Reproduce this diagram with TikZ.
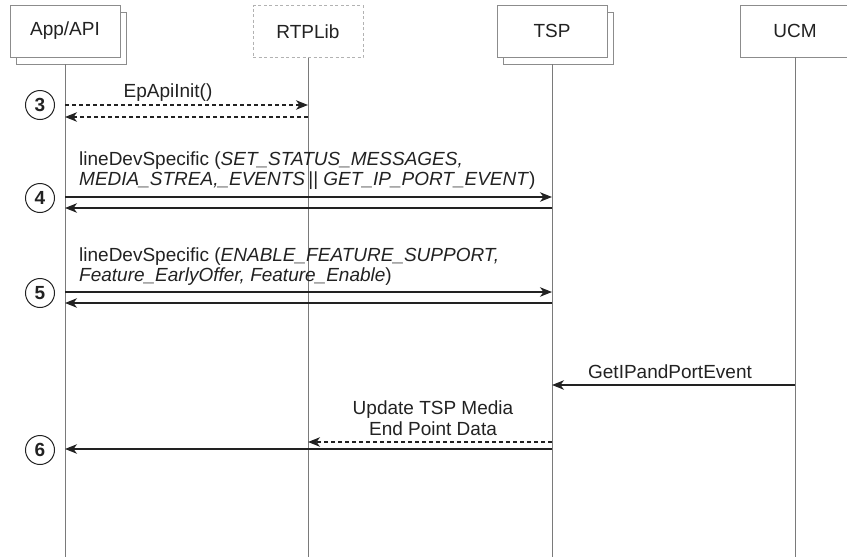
\documentclass[tikz,border=0pt]{standalone}
\usepackage{fontspec}
\setmainfont{Liberation Sans}
\usetikzlibrary{arrows.meta,shadows}

\definecolor{boxgray}{HTML}{8C8C8C}
\definecolor{linegray}{HTML}{7A7A7A}
\definecolor{inkgray}{HTML}{222222}

\tikzstyle{actor} = [draw=boxgray, line width=0.9pt, fill=white, minimum width=110pt, minimum height=52pt, inner sep=0pt, text=inkgray]
\tikzstyle{stacked} = [actor, copy shadow={shadow xshift=6pt, shadow yshift=-7pt, draw=boxgray, line width=0.9pt, fill=white}]
\tikzstyle{lib} = [actor, draw=gray!60, dash pattern=on 3pt off 2.5pt]
\tikzstyle{life} = [draw=linegray, line width=0.9pt]
\tikzstyle{msg} = [draw=inkgray, line width=1.1pt, -{Stealth[length=12pt,width=9.5pt,inset=3.5pt]}]
\tikzstyle{dmsg} = [msg, dash pattern=on 4pt off 3pt]
\tikzstyle{stepnum} = [circle, draw=inkgray, line width=1pt, minimum size=29pt, inner sep=0pt, text=inkgray, font=\fontsize{19}{20}\selectfont\bfseries]
\tikzstyle{note} = [text=inkgray, inner sep=0pt]

\begin{document}
\begin{tikzpicture}[x=1pt, y=-1pt, font=\fontsize{19}{20.5}\selectfont]
\useasboundingbox (0,0) rectangle (847,560);

\node[stacked] (app) at (65,31) {App/API};
\node[lib] (rtp) at (308,31.5) {RTPLib};
\node[stacked] (tsp) at (552,31) {TSP};
\node[actor] (ucm) at (795,31) {UCM};

\coordinate (bottom) at (0,557);
\coordinate (r3) at (0,105);
\coordinate (r3b) at (0,117);
\coordinate (r4) at (0,197);
\coordinate (r4b) at (0,208);
\coordinate (r5) at (0,292);
\coordinate (r5b) at (0,303);
\coordinate (rg) at (0,385);
\coordinate (r6a) at (0,442);
\coordinate (r6) at (0,449);

\draw[life] ([yshift=-7pt]app.south) -- (app |- bottom);
\draw[life] (rtp.south) -- (rtp |- bottom);
\draw[life] ([yshift=-7pt]tsp.south) -- (tsp |- bottom);
\draw[life] (ucm.south) -- (ucm |- bottom);

\node[stepnum] (s3) at (40,105) {3};
\node[note] (l3) at (168,93) {EpApiInit()};
\draw[dmsg] (app |- r3) -- (rtp |- r3);
\draw[dmsg] (rtp |- r3b) -- (app |- r3b);

\node[stepnum] (s4) at (40,198) {4};
\node[note, anchor=west, align=left] (l4) at (79,170.5)
    {lineDevSpecific (\textit{SET\_STATUS\_MESSAGES,}\\
     \textit{MEDIA\_STREA,\_EVENTS}\,|| \textit{GET\_IP\_PORT\_EVENT})};
\draw[msg] (app |- r4) -- (tsp |- r4);
\draw[msg] (tsp |- r4b) -- (app |- r4b);

\node[stepnum] (s5) at (40,293) {5};
\node[note, anchor=west, align=left] (l5) at (79,266.5)
    {lineDevSpecific (\textit{ENABLE\_FEATURE\_SUPPORT,}\\
     \textit{Feature\_EarlyOffer, Feature\_Enable})};
\draw[msg] (app |- r5) -- (tsp |- r5);
\draw[msg] (tsp |- r5b) -- (app |- r5b);

\node[note] (lg) at (670,372) {GetIPandPortEvent};
\draw[msg] (ucm |- rg) -- (tsp |- rg);

\node[stepnum] (s6) at (40,450) {6};
\node[note, align=center] (l6) at (433,418) {Update TSP Media\\End Point Data};
\draw[dmsg] (tsp |- r6a) -- (rtp |- r6a);
\draw[msg] (tsp |- r6) -- (app |- r6);
\end{tikzpicture}
\end{document}
